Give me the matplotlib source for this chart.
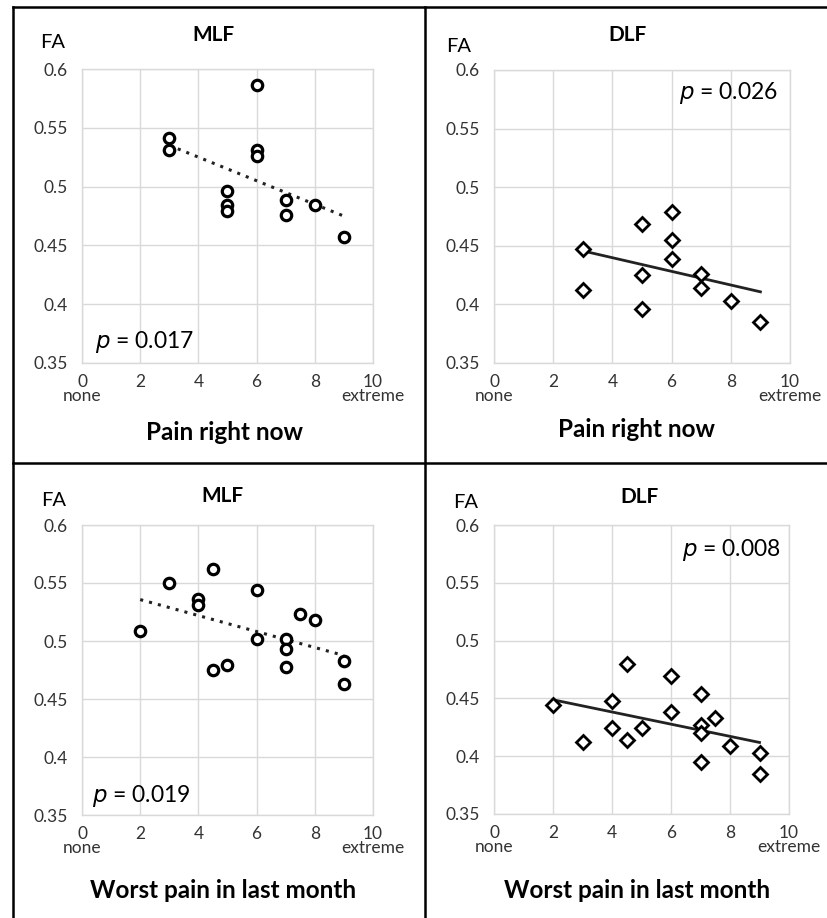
import numpy as np
import matplotlib.pyplot as plt
from matplotlib.lines import Line2D
from matplotlib.ticker import FuncFormatter

plt.rcParams['font.family'] = ['Lato', 'DejaVu Sans']

# pain right now
now_x = [3, 3, 5, 5, 5, 6, 6, 6, 7, 7, 8, 9]
now_mlf = [0.541, 0.531, 0.496, 0.484, 0.479, 0.586, 0.531, 0.526, 0.489, 0.476, 0.484, 0.457]
now_dlf_x = [3, 3, 5, 5, 5, 6, 6, 6, 7, 7, 8, 9]
now_dlf = [0.447, 0.412, 0.469, 0.425, 0.396, 0.479, 0.455, 0.439, 0.426, 0.414, 0.403, 0.385]

# worst pain in last month
worst_mlf_x = [2, 3, 4, 4, 4.5, 4.5, 5, 6, 6, 7, 7, 7, 7.5, 8, 9, 9]
worst_mlf = [0.509, 0.550, 0.536, 0.531, 0.562, 0.475, 0.479, 0.544, 0.502, 0.502, 0.493, 0.478,
             0.523, 0.518, 0.483, 0.463]
worst_dlf_x = [2, 3, 4, 4, 4.5, 4.5, 5, 6, 6, 7, 7, 7, 7, 7.5, 8, 9, 9]
worst_dlf = [0.444, 0.412, 0.448, 0.424, 0.480, 0.414, 0.424, 0.469, 0.438, 0.454, 0.427, 0.420,
             0.395, 0.433, 0.409, 0.403, 0.385]

p_values = ['0.017', '0.026', '0.019', '0.008']
titles = ['MLF', 'DLF', 'MLF', 'DLF']
xlabels = ['Pain right now', 'Pain right now', 'Worst pain in last month', 'Worst pain in last month']
xticks = [0, 2, 4, 6, 8, 10]
xtick_labels = ['0\nnone', '2', '4', '6', '8', '10\nextreme']
yticks = [0.35, 0.4, 0.45, 0.5, 0.55, 0.6]

W, H = 827, 918
fig = plt.figure(figsize=(W / 100, H / 100), dpi=100)

def box(x0, y0, x1, y1):
    # pixel box -> figure fraction rect
    return [x0 / W, 1 - y1 / H, (x1 - x0) / W, (y1 - y0) / H]

panels = [
    (box(82, 69, 373, 363), now_x, now_mlf, 'o', ':'),
    (box(494, 70, 790, 363), now_dlf_x, now_dlf, 'D', '-'),
    (box(82, 525, 373, 815), worst_mlf_x, worst_mlf, 'o', ':'),
    (box(494, 525, 789, 814), worst_dlf_x, worst_dlf, 'D', '-'),
]
title_pos = [(213, 35), (628, 35), (222, 496), (640, 497)]
fa_pos = [(53, 43), (459, 47), (54, 501), (466, 502)]
xlabel_pos = [(225, 432), (637, 430), (223, 890), (637, 890)]
p_pos = [(0.46, 0.368, 'left'), (9.6, 0.58, 'right'), (0.34, 0.366, 'left'), (9.72, 0.578, 'right')]

for i, (rect, x, y, mk, ls) in enumerate(panels):
    ax = fig.add_axes(rect)
    x = np.array(x)
    y = np.array(y)
    if mk == 'o':
        ax.plot(x, y, 'o', ms=7.5, mfc='white', mec='black', mew=2.3, zorder=3)
    else:
        ax.plot(x, y, 'D', ms=7, mfc='white', mec='black', mew=2.0, zorder=3)
    k, b = np.polyfit(x, y, 1)
    xx = np.array([x.min(), x.max()])
    if ls == ':':
        ax.plot(xx, k * xx + b, ls=(0, (1, 2)), color='#222222', lw=2.2, zorder=2)
    else:
        ax.plot(xx, k * xx + b, '-', color='#222222', lw=2.0, zorder=2)

    ax.set_xlim(0, 10)
    ax.set_ylim(0.35, 0.6)
    ax.set_xticks(xticks)
    ax.set_xticklabels(xtick_labels, linespacing=0.85)
    ax.set_yticks(yticks)
    ax.yaxis.set_major_formatter(FuncFormatter(lambda v, _: '{:g}'.format(round(v, 2))))
    ax.tick_params(length=0, labelsize=12.5, colors='#333333')
    ax.tick_params(axis='y', pad=10)
    ax.tick_params(axis='x', pad=8)
    ax.grid(True, color='#d9d9d9', lw=1)
    ax.set_axisbelow(True)
    for s in ax.spines.values():
        s.set_color('#d9d9d9')
        s.set_linewidth(1)

    px, py, ha = p_pos[i]
    ax.text(px, py, '$p$ = ' + p_values[i], ha=ha, va='center', fontsize=16.5)

    tx, ty = title_pos[i]
    fig.text(tx / W, 1 - ty / H, titles[i], ha='center', va='center', fontsize=15, fontweight='bold')
    fx, fy = fa_pos[i]
    fig.text(fx / W, 1 - fy / H, 'FA', ha='center', va='center', fontsize=14.5)
    lx, ly = xlabel_pos[i]
    fig.text(lx / W, 1 - ly / H, xlabels[i], ha='center', va='center', fontsize=17.5, fontweight='bold')

# panel frame lines
for (x0, y0, x1, y1) in [(13, 7, 827, 7), (13, 7, 13, 918), (425, 7, 425, 918), (13, 463, 827, 463)]:
    fig.add_artist(Line2D([x0 / W, x1 / W], [1 - y0 / H, 1 - y1 / H], color='black', lw=1.8))

fig.savefig('out.png', dpi=100)
